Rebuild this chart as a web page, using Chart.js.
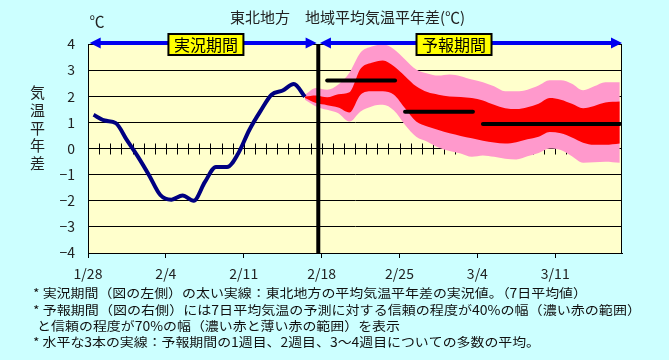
<!DOCTYPE html>
<html><head><meta charset="utf-8">
<style>html,body{margin:0;padding:0;background:#ccffff;}canvas{display:block}</style>
<script src="https://cdn.jsdelivr.net/npm/chart.js@4.4.1/dist/chart.umd.min.js"></script>
</head><body>
<canvas id="c" width="669" height="360"></canvas>
<script>
// ---- data ----
const tickDays = [0, 7, 14, 21, 28, 35, 42];
const tickLabels = ['1/28', '2/4', '2/11', '2/18', '2/25', '3/4', '3/11'];
const obsDays = [0.5,1.5,2.5,3.5,4.5,5.5,6.5,7.5,8.5,9.5,10.5,11.5,12.5,13.5,14.5,15.5,16.5,17.5,18.5,19.5];
const obsValues = [1.29,1.07,0.97,0.32,-0.32,-1.03,-1.78,-1.96,-1.80,-2.00,-1.29,-0.71,-0.71,-0.19,0.71,1.43,2.06,2.22,2.47,1.98];
const fcDays = [19.5,20.5,21.5,22.5,23.5,24.5,25.5,26.5,27.5,28.5,29.5,30.5,31.5,32.5,33.5,34.5,35.5,36.5,37.5,38.5,39.5,40.5,41.5,42.5,43.5,44.5,45.5,46.5,47.8];
const fcOuterHigh = [2.06,2.32,2.25,2.45,2.90,3.67,3.90,3.99,3.80,3.41,3.02,2.87,2.79,2.83,2.77,2.64,2.54,2.38,2.19,2.19,2.25,2.41,2.61,2.61,2.48,2.23,2.38,2.54,2.54];
const fcInnerHigh = [1.99,2.03,1.96,2.08,2.15,3.05,3.28,3.37,3.15,2.77,2.38,2.16,2.06,1.99,1.97,1.93,1.84,1.67,1.54,1.51,1.58,1.71,1.93,1.87,1.71,1.54,1.63,1.76,1.80];
const fcInnerLow = [1.93,1.74,1.66,1.57,1.38,2.06,2.19,2.19,2.06,1.54,1.03,0.84,0.71,0.58,0.48,0.39,0.30,0.23,0.19,0.24,0.35,0.45,0.63,0.58,0.42,0.22,0.14,0.14,0.19];
const fcOuterLow = [1.87,1.61,1.48,1.35,1.03,1.42,1.61,1.67,1.45,0.90,0.45,0.26,0.04,-0.10,-0.19,-0.32,-0.27,-0.32,-0.39,-0.42,-0.30,-0.17,0.00,-0.06,-0.30,-0.55,-0.53,-0.51,-0.55];
const weekStart = [21.5, 28.5, 35.5];
const weekEnd = [27.6, 34.6, 47.8];
const weekMean = [2.60, 1.41, 0.94];
const splitDay = 20.7;
const periodNames = ['実況期間', '予報期間'];
const periodFrom = [0.15, 20.85];
const periodTo = [20.55, 48];
const periodLabelDay = [10.6, 32.9];
const titleText = '東北地方　地域平均気温平年差(℃)';
const unitText = '℃';
const yTitle = ['気', '温', '平', '年', '差'];
const footLines = [
  '* 実況期間（図の左側）の太い実線：東北地方の平均気温平年差の実況値。（7日平均値）',
  '* 予報期間（図の右側）には7日平均気温の予測に対する信頼の程度が40%の幅（濃い赤の範囲）',
  ' と信頼の程度が70%の幅（濃い赤と薄い赤の範囲）を表示',
  '* 水平な3本の実線：予報期間の1週目、2週目、3～4週目についての多数の平均。'
];
// ---- layout constants ----
const FONT = '"Noto Sans CJK JP", "Noto Sans", sans-serif';
const footX = [33, 33, 34, 33];
const footEnd = [587, 641, 400, 540];
const footY = [293.5, 310, 326.5, 342.5];

const pts = (xs, ys) => xs.map((x, i) => ({x, y: ys[i]}));
const band = (data, color, fill) => ({data, borderColor: 'rgba(0,0,0,0)', borderWidth: 0, backgroundColor: color, fill, pointRadius: 0, cubicInterpolationMode: 'monotone'});

const datasets = [
  {data: pts(obsDays, obsValues), borderColor: '#000080', borderWidth: 4, pointRadius: 0, cubicInterpolationMode: 'monotone', fill: false},
  ...weekMean.map((m, i) => ({data: [{x: weekStart[i], y: m}, {x: weekEnd[i], y: m}], borderColor: '#000', borderWidth: 4, borderCapStyle: 'round', pointRadius: 0, fill: false})),
  {data: [{x: splitDay, y: -4}, {x: splitDay, y: 4}], borderColor: '#000', borderWidth: 4, pointRadius: 0, fill: false, clip: 4},
  band(pts(fcDays, fcInnerHigh), '#ff0000', '+1'),
  band(pts(fcDays, fcInnerLow), '#ff0000', false),
  band(pts(fcDays, fcOuterHigh), '#ff99cc', '+1'),
  band(pts(fcDays, fcOuterLow), '#ff99cc', false)
];

function fitText(ctx, text, x, y, endX) {
  const w = ctx.measureText(text).width;
  const s = (endX - x) / w;
  ctx.save(); ctx.translate(x, y); ctx.scale(s, 1); ctx.fillText(text, 0, 0); ctx.restore();
}

const deco = {
  id: 'deco',
  beforeDraw(c) {
    const {ctx, chartArea: a} = c;
    ctx.save();
    ctx.fillStyle = '#ccffff'; ctx.fillRect(0, 0, c.width, c.height);
    ctx.fillStyle = '#ffffcc'; ctx.fillRect(a.left, a.top, a.right - a.left, a.bottom - a.top);
    ctx.restore();
  },
  beforeDatasetsDraw(c) {
    const {ctx, chartArea: a, scales: {x, y}} = c;
    ctx.save();
    ctx.strokeStyle = '#000'; ctx.lineWidth = 1;
    ctx.strokeRect(a.left + 0.5, a.top + 0.5, a.right - a.left - 1, a.bottom - a.top);
    const y0 = Math.round(y.getPixelForValue(0)) + 0.5;
    ctx.beginPath();
    for (let d = 1; d < 48; d++) {
      const px = Math.round(x.getPixelForValue(d)) + 0.5;
      ctx.moveTo(px, y0 - 6); ctx.lineTo(px, y0 + 5);
    }
    ctx.stroke();
    ctx.restore();
  },
  afterDatasetsDraw(c) {
    const {ctx, scales: {x, y}} = c;
    const ay = y.getPixelForValue(4) - 1;
    ctx.save();
    ctx.fillStyle = '#0000f0'; ctx.strokeStyle = '#0000f0'; ctx.lineWidth = 4;
    for (let i = 0; i < 2; i++) {
      const x1 = x.getPixelForValue(periodFrom[i]), x2 = x.getPixelForValue(periodTo[i]);
      ctx.beginPath(); ctx.moveTo(x1 + 8, ay); ctx.lineTo(x2 - 8, ay); ctx.stroke();
      ctx.beginPath(); ctx.moveTo(x1, ay); ctx.lineTo(x1 + 11, ay - 5.5); ctx.lineTo(x1 + 11, ay + 5.5); ctx.closePath(); ctx.fill();
      ctx.beginPath(); ctx.moveTo(x2, ay); ctx.lineTo(x2 - 11, ay - 5.5); ctx.lineTo(x2 - 11, ay + 5.5); ctx.closePath(); ctx.fill();
    }
    ctx.font = '16px ' + FONT; ctx.textAlign = 'center'; ctx.textBaseline = 'middle';
    for (let i = 0; i < 2; i++) {
      const cx = x.getPixelForValue(periodLabelDay[i]);
      ctx.fillStyle = '#ffff00'; ctx.fillRect(cx - 37.5, 34, 75, 21);
      ctx.strokeStyle = '#000'; ctx.lineWidth = 2; ctx.strokeRect(cx - 37.5, 34, 75, 21);
      ctx.fillStyle = '#000'; ctx.fillText(periodNames[i], cx, 45, 70);
    }
    ctx.restore();
  },
  afterDraw(c) {
    const {ctx} = c;
    ctx.save();
    ctx.fillStyle = '#222'; ctx.textBaseline = 'middle';
    ctx.font = '15px ' + FONT; ctx.textAlign = 'center';
    ctx.fillText(titleText, 347.5, 17, 258);
    ctx.fillText(unitText, 97, 21);
    yTitle.forEach((ch, i) => ctx.fillText(ch, 37.5, 92.5 + 17.7 * i));
    ctx.textAlign = 'left'; ctx.fillStyle = '#111';
    ctx.font = '12.5px ' + FONT;
    footLines.forEach((t, i) => fitText(ctx, t, footX[i], footY[i], footEnd[i]));
    ctx.restore();
  }
};

new Chart(document.getElementById('c'), {
  type: 'line',
  data: {datasets},
  options: {
    responsive: false, devicePixelRatio: 1, animation: false, events: [],
    layout: {padding: {top: 44, right: 47, bottom: 0, left: 0}},
    plugins: {legend: {display: false}, tooltip: {enabled: false}},
    scales: {
      x: {
        type: 'linear', min: 0, max: 48,
        afterBuildTicks: s => { s.ticks = tickDays.map(v => ({value: v})); },
        afterFit: s => { s.height = 107; },
        ticks: {callback: v => tickLabels[tickDays.indexOf(v)], font: {size: 14, family: FONT}, color: '#222', padding: 7, maxRotation: 0},
        grid: {drawOnChartArea: false, drawTicks: true, tickLength: 5, color: '#000'},
        border: {display: true, color: '#000', width: 1}
      },
      y: {
        min: -4, max: 4,
        afterFit: s => { s.width = 88; },
        ticks: {stepSize: 1, callback: v => v < 0 ? '−' + Math.abs(v) : String(v), font: {size: 14, family: FONT}, color: '#222', padding: 13},
        grid: {color: '#000', lineWidth: 1, drawTicks: false},
        border: {display: true, color: '#000', width: 1}
      }
    }
  },
  plugins: [deco]
});
</script>
</body></html>
